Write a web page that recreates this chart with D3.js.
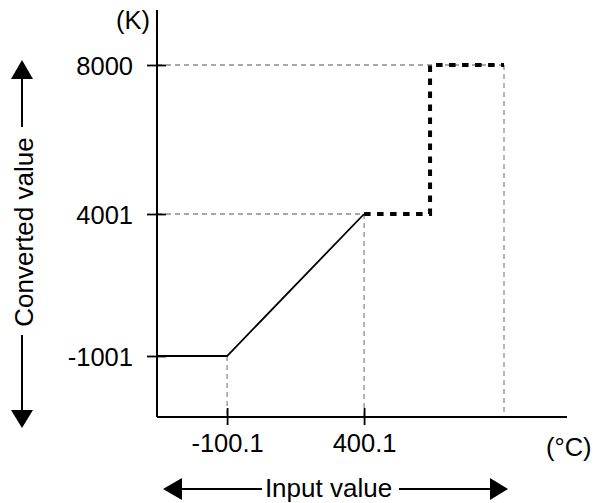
<!DOCTYPE html>
<html>
<head>
<meta charset="utf-8">
<script src="https://cdn.jsdelivr.net/npm/d3@7"></script>
<style>
  html, body { margin: 0; padding: 0; background: #fff; }
  svg { display: block; font-family: "Liberation Sans", Arial, Helvetica, sans-serif; }
</style>
</head>
<body>
<svg id="chart" width="596" height="503"></svg>
<script>
// ---- data ----
const yTickValues = [-1001, 4001, 8000];
const yTickLabels = ["-1001", "4001", "8000"];
const xTickValues = [-100.1, 400.1];
const xTickLabels = ["-100.1", "400.1"];
// solid segment: clamp then linear rise
const solidX = [-356, -100.1, 400.1];
const solidY = [-1001, -1001, 4001];
// thick dashed segment: step
const stepX = [400.1, 641, 641, 911];
const stepY = [4001, 4001, 8000, 8000];
const xEnd = 911;
const yUnit = "(K)";
const xUnit = "(°C)";
const yTitle = "Converted value";
const xTitle = "Input value";

// ---- layout ----
const svg = d3.select("#chart");
const axisX0 = 157, axisX1 = 567, axisY0 = 417, axisY1 = 10;

const x = d3.scaleLinear().domain([-356, 1141]).range([axisX0, axisX1]);
const y = d3.scaleLinear().domain(yTickValues).range([356, 214, 65]);

const gray = "#8c8c8c";

// guide lines (gray dashed)
const guides = [
  [[x(-356), y(8000)], [x(xEnd), y(8000)]],
  [[x(-356), y(4001)], [x(400.1), y(4001)]],
  [[x(-100.1), y(-1001)], [x(-100.1), axisY0]],
  [[x(400.1), y(4001)], [x(400.1), axisY0]],
  [[x(xEnd), y(8000)], [x(xEnd), axisY0]]
];
svg.append("g").selectAll("line").data(guides).join("line")
  .attr("x1", d => d[0][0]).attr("y1", d => d[0][1])
  .attr("x2", d => d[1][0]).attr("y2", d => d[1][1])
  .attr("stroke", gray).attr("stroke-width", 1.3)
  .attr("stroke-dasharray", "5,4");

// axes lines
svg.append("line").attr("x1", axisX0).attr("x2", axisX0).attr("y1", axisY1).attr("y2", axisY0)
  .attr("stroke", "#000").attr("stroke-width", 2);
svg.append("line").attr("x1", axisX0).attr("x2", axisX1).attr("y1", axisY0).attr("y2", axisY0)
  .attr("stroke", "#000").attr("stroke-width", 2);

// y ticks
const yAxis = d3.axisLeft(y).tickValues(yTickValues).tickFormat((d, i) => yTickLabels[i])
  .tickSize(10).tickSizeOuter(0).tickPadding(14);
const gy = svg.append("g").attr("transform", `translate(${axisX0},0)`).call(yAxis);
gy.select(".domain").remove();
gy.selectAll(".tick line").attr("x1", 9).attr("stroke", "#000").attr("stroke-width", 1.8);
gy.selectAll(".tick text").attr("font-size", 25.5).attr("fill", "#000")
  .attr("font-family", "'Liberation Sans', Arial, sans-serif").attr("dy", "0.36em");

// x ticks
const xAxis = d3.axisBottom(x).tickValues(xTickValues).tickFormat((d, i) => xTickLabels[i])
  .tickSize(8).tickSizeOuter(0).tickPadding(9);
const gx = svg.append("g").attr("transform", `translate(0,${axisY0})`).call(xAxis);
gx.select(".domain").remove();
gx.selectAll(".tick line").attr("y1", -9).attr("stroke", "#000").attr("stroke-width", 1.8);
gx.selectAll(".tick text").attr("font-size", 25.5).attr("fill", "#000")
  .attr("font-family", "'Liberation Sans', Arial, sans-serif").attr("dy", "0.71em");

// solid line
const line = d3.line().x(d => x(d[0])).y(d => y(d[1]));
svg.append("path").datum(solidX.map((v, i) => [v, solidY[i]]))
  .attr("d", line).attr("fill", "none").attr("stroke", "#000").attr("stroke-width", 1.8);

// thick dashed step
svg.append("path").datum(stepX.map((v, i) => [v, stepY[i]]))
  .attr("d", line).attr("fill", "none").attr("stroke", "#000").attr("stroke-width", 4)
  .attr("stroke-dasharray", "6.5,6.5");

// units
svg.append("text").attr("x", 150).attr("y", 29).attr("text-anchor", "end")
  .attr("font-size", 25.5).text(yUnit);
svg.append("text").attr("x", 546).attr("y", 456).attr("text-anchor", "start")
  .attr("font-size", 25.5).text(xUnit);

// vertical title with arrows
const vx = 22;
svg.append("path").attr("d", `M${vx},60 L${vx - 11},79 L${vx + 11},79 Z`).attr("fill", "#000");
svg.append("path").attr("d", `M${vx},428 L${vx - 11},410 L${vx + 11},410 Z`).attr("fill", "#000");
svg.append("line").attr("x1", vx).attr("x2", vx).attr("y1", 78).attr("y2", 127)
  .attr("stroke", "#000").attr("stroke-width", 2);
svg.append("line").attr("x1", vx).attr("x2", vx).attr("y1", 335).attr("y2", 411)
  .attr("stroke", "#000").attr("stroke-width", 2);
svg.append("text").attr("transform", `translate(33,232) rotate(-90)`)
  .attr("text-anchor", "middle").attr("font-size", 26).text(yTitle);

// horizontal title with arrows
const hy = 489;
svg.append("path").attr("d", `M163,${hy} L182,${hy - 11} L182,${hy + 11} Z`).attr("fill", "#000");
svg.append("path").attr("d", `M508,${hy} L490,${hy - 11} L490,${hy + 11} Z`).attr("fill", "#000");
svg.append("line").attr("x1", 181).attr("x2", 262).attr("y1", hy).attr("y2", hy)
  .attr("stroke", "#000").attr("stroke-width", 2);
svg.append("line").attr("x1", 399).attr("x2", 491).attr("y1", hy).attr("y2", hy)
  .attr("stroke", "#000").attr("stroke-width", 2);
svg.append("text").attr("x", 328.5).attr("y", 497).attr("text-anchor", "middle")
  .attr("font-size", 26).text(xTitle);
</script>
</body>
</html>
